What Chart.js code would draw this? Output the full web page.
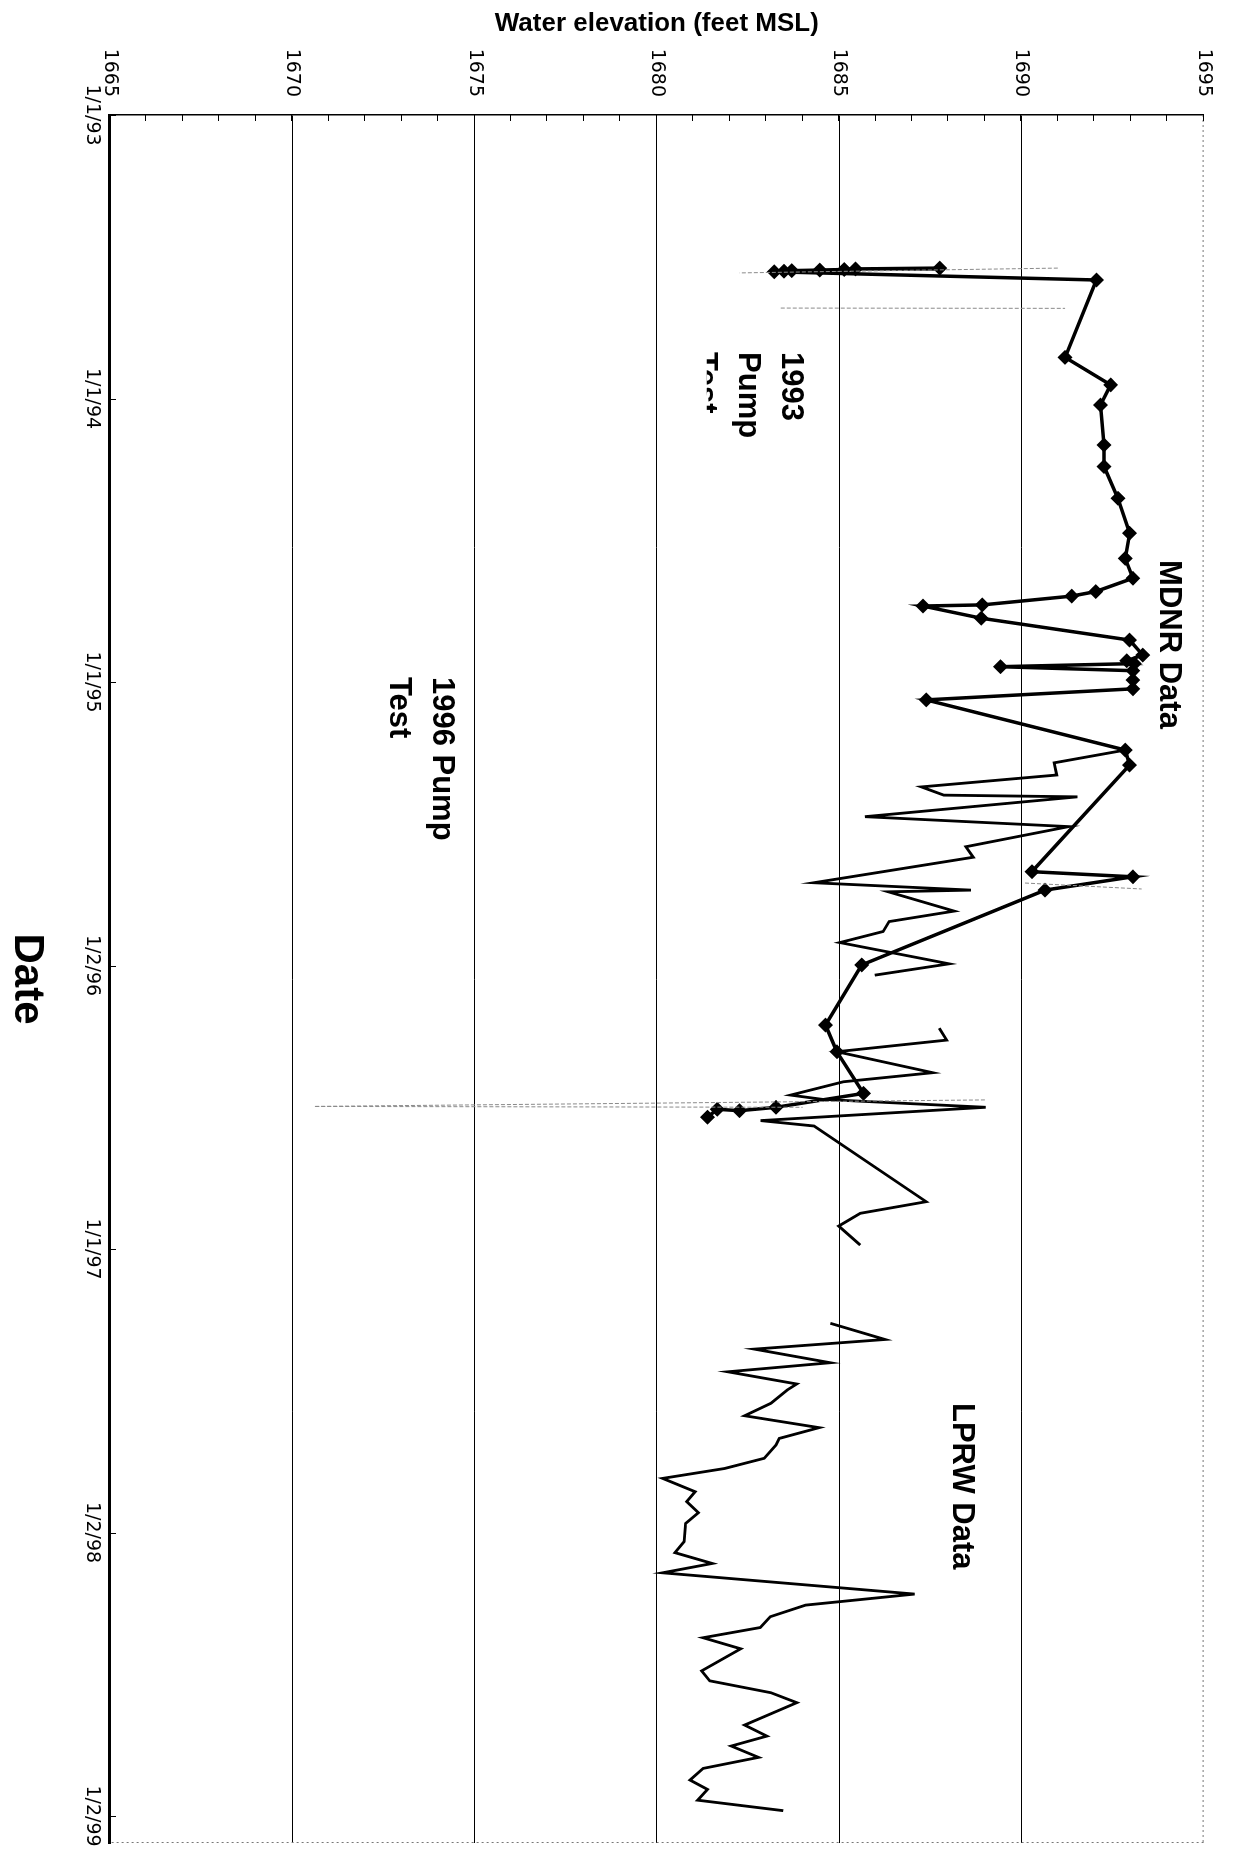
<!DOCTYPE html>
<html>
<head>
<meta charset="utf-8">
<title>Water elevation</title>
<script src="https://cdn.jsdelivr.net/npm/chart.js@4.4.1/dist/chart.umd.min.js"></script>
<style>
    html, body { margin: 0; padding: 0; background: #fff; overflow: hidden; }
    body { width: 1233px; height: 1855px; position: relative; }
    /* the chart is drawn the usual way round, then turned a quarter clockwise */
    #wrap {
        position: absolute; left: 0; top: 0;
        width: 1855px; height: 1233px;
        transform-origin: 0 0;
        transform: translate(1233px, 0) rotate(90deg);
    }
</style>
</head>
<body>
<div id="wrap"><canvas id="chart" width="1855" height="1233"></canvas></div>
<script>
// date axis, in decimal years
const tickYears = [1993, 1994, 1995, 1996, 1997, 1998, 1999];
const dateLabels = ['1/1/93', '1/1/94', '1/1/95', '1/2/96', '1/1/97', '1/2/98', '1/2/99'];

// MDNR Data (markers)
const mdnrYear = [
    1993.540, 1993.543, 1993.545, 1993.547, 1993.549, 1993.551, 1993.553, 1993.582,
    1993.855, 1993.952, 1994.023, 1994.164, 1994.240, 1994.352, 1994.475, 1994.564,
    1994.634, 1994.681, 1994.697, 1994.728, 1994.732, 1994.775, 1994.852, 1994.905,
    1994.925, 1994.935, 1994.946, 1994.960, 1994.993, 1995.024, 1995.063, 1995.240,
    1995.293, 1995.669, 1995.687, 1995.734, 1995.998, 1996.210, 1996.304, 1996.451,
    1996.500, 1996.512, 1996.507, 1996.535
];
const mdnrElev = [
    1687.76, 1685.45, 1685.14, 1684.47, 1683.70, 1683.49, 1683.22, 1692.06,
    1691.20, 1692.45, 1692.17, 1692.27, 1692.27, 1692.65, 1692.97, 1692.85,
    1693.06, 1692.04, 1691.38, 1688.93, 1687.30, 1688.90, 1692.97, 1693.33,
    1692.89, 1693.10, 1689.43, 1693.06, 1693.06, 1693.06, 1687.39, 1692.85,
    1692.97, 1690.29, 1693.06, 1690.65, 1685.62, 1684.63, 1684.94, 1685.67,
    1683.27, 1682.27, 1681.66, 1681.39
];

// LPRW Data (no markers, null = break in record)
const lprwYear = [
    1995.240, 1995.285, 1995.328, 1995.370, 1995.399, 1995.405, 1995.475, 1995.510,
    1995.581, 1995.618, 1995.708, 1995.734, 1995.740, 1995.808, 1995.845, 1995.880,
    1995.919, 1995.994, 1996.034, null,
    1996.221, 1996.263, 1996.304, 1996.378, 1996.410, 1996.457, 1996.472, 1996.500,
    1996.547, 1996.566, 1996.833, 1996.874, 1996.919, 1996.986, null,
    1997.262, 1997.319, 1997.353, 1997.401, 1997.433, 1997.476, 1997.497, 1997.544,
    1997.588, 1997.630, 1997.668, 1997.691, 1997.738, 1997.774, 1997.809, 1997.856,
    1997.891, 1997.930, 1997.968, 1998.032, 1998.071, 1998.109, 1998.142, 1998.217,
    1998.256, 1998.297, 1998.335, 1998.371, 1998.410, 1998.488, 1998.523, 1998.565,
    1998.600, 1998.679, 1998.718, 1998.753, 1998.793, 1998.832, 1998.873, 1998.906,
    1998.944, 1998.981
];
const lprwElev = [
    1692.85, 1690.90, 1690.97, 1687.26, 1687.87, 1691.54, 1685.71, 1691.30,
    1688.48, 1688.68, 1684.31, 1688.62, 1686.35, 1688.16, 1686.37, 1686.21,
    1685.02, 1688.02, 1685.98, null,
    1687.75, 1687.95, 1684.94, 1687.57, 1685.12, 1683.67, 1684.54, 1689.02,
    1682.85, 1684.31, 1687.39, 1685.58, 1684.99, 1685.58, null,
    1684.76, 1686.26, 1682.68, 1684.76, 1681.95, 1683.84, 1683.58, 1683.13,
    1682.41, 1684.45, 1683.36, 1683.27, 1682.95, 1681.86, 1680.16, 1681.05,
    1680.82, 1681.14, 1680.79, 1680.75, 1680.50, 1681.52, 1680.16, 1687.07,
    1684.08, 1683.11, 1682.84, 1681.27, 1682.30, 1681.23, 1681.45, 1683.13,
    1683.84, 1682.41, 1683.02, 1682.04, 1682.79, 1681.27, 1680.91, 1681.39,
    1681.12, 1683.47
];

// faint pump test traces
const pumpYear = [1993.540, 1993.557, null, 1993.681, 1993.682, null, 1995.709, 1995.730, null, 1996.474, 1996.497, 1996.500];
const pumpElev = [1691.00, 1682.27, null, 1683.40, 1691.20, null, 1690.10, 1693.30, null, 1689.00, 1670.60, 1684.00];

const notes = [
    { lines: ['MDNR Data'], year: 1994.570, elev: 1693.80 },
    { lines: ['LPRW Data'], year: 1997.543, elev: 1688.12 },
    { lines: ['1993', 'Pump', 'Test'], year: 1993.836, elev: 1683.44, cutElev: 1681.37 },
    { lines: ['1996 Pump', 'Test'], year: 1994.982, elev: 1673.87 }
];

function toPoints(xs, ys) {
    return xs.map((x, i) => ({ x: x, y: ys[i] }));
}

const FONT = '"Liberation Sans", Arial, sans-serif';
const TICK_FONT = '"DejaVu Sans", sans-serif';

const notesPlugin = {
    id: 'notes',
    afterDatasetsDraw(chart) {
        const { ctx, scales: { x, y } } = chart;
        ctx.save();
        ctx.fillStyle = '#000';
        ctx.font = 'bold 31px ' + FONT;
        ctx.textBaseline = 'alphabetic';
        notes.forEach(n => {
            const px = x.getPixelForValue(n.year);
            const py = y.getPixelForValue(n.elev);
            ctx.save();
            if (n.cutElev) {
                const cut = y.getPixelForValue(n.cutElev);
                ctx.beginPath();
                ctx.rect(px - 10, py - 60, 300, cut - py + 60);
                ctx.clip();
            }
            n.lines.forEach((t, i) => ctx.fillText(t, px, py + i * 43));
            ctx.restore();
        });
        ctx.restore();
    }
};

const framePlugin = {
    id: 'frame',
    afterDraw(chart) {
        const { ctx, chartArea: a, scales: { x, y } } = chart;
        ctx.save();
        // dotted far edges
        ctx.strokeStyle = '#777';
        ctx.lineWidth = 1;
        ctx.setLineDash([2, 3]);
        ctx.beginPath();
        ctx.moveTo(a.left, a.top + 0.5);
        ctx.lineTo(a.right, a.top + 0.5);
        ctx.moveTo(a.right - 0.5, a.top);
        ctx.lineTo(a.right - 0.5, a.bottom);
        ctx.stroke();
        ctx.setLineDash([]);
        // short inner tick marks
        ctx.strokeStyle = '#000';
        ctx.beginPath();
        tickYears.forEach(v => {
            const px = Math.round(x.getPixelForValue(v)) + 0.5;
            ctx.moveTo(px, a.bottom);
            ctx.lineTo(px, a.bottom - 6);
        });
        for (let v = y.min; v <= y.max; v++) {
            const py = Math.round(y.getPixelForValue(v)) + 0.5;
            ctx.moveTo(a.left, py);
            ctx.lineTo(a.left + 6, py);
        }
        ctx.stroke();
        ctx.restore();
    }
};

new Chart(document.getElementById('chart'), {
    type: 'line',
    data: {
        datasets: [
            {
                label: 'Pump test',
                data: toPoints(pumpYear, pumpElev),
                borderColor: '#8a8a8a',
                borderWidth: 1,
                borderDash: [4, 2],
                pointRadius: 0,
                spanGaps: false
            },
            {
                label: 'LPRW Data',
                data: toPoints(lprwYear, lprwElev),
                borderColor: '#000',
                borderWidth: 2.8,
                pointRadius: 0,
                spanGaps: false
            },
            {
                label: 'MDNR Data',
                data: toPoints(mdnrYear, mdnrElev),
                borderColor: '#000',
                borderWidth: 3.5,
                pointStyle: 'rectRot',
                pointRadius: 5,
                pointBackgroundColor: '#000',
                pointBorderColor: '#000'
            }
        ]
    },
    options: {
        responsive: false,
        animation: false,
        devicePixelRatio: 1,
        layout: { padding: { top: 20, right: 12, left: 0, bottom: 0 } },
        elements: { line: { tension: 0 } },
        plugins: {
            legend: { display: false },
            tooltip: { enabled: false }
        },
        scales: {
            x: {
                type: 'linear',
                position: 'bottom',
                min: 1993,
                max: 1999.095,
                afterBuildTicks: s => { s.ticks = tickYears.map(v => ({ value: v })); },
                afterFit: s => { s.height = 110; },
                ticks: {
                    autoSkip: false,
                    maxRotation: 0,
                    padding: 7,
                    color: '#000',
                    font: { family: TICK_FONT, size: 19 },
                    callback: (v, i) => dateLabels[i]
                },
                grid: { display: false, drawTicks: false },
                border: { color: '#000', width: 3 },
                title: {
                    display: true,
                    text: 'Date',
                    color: '#000',
                    font: { family: FONT, size: 42, weight: 'bold' },
                    padding: { top: 0, bottom: 1 }
                }
            },
            y: {
                type: 'linear',
                position: 'left',
                min: 1665,
                max: 1695,
                afterFit: s => { s.width = 115; },
                ticks: {
                    stepSize: 5,
                    padding: 18,
                    color: '#000',
                    font: { family: TICK_FONT, size: 19 },
                    callback: v => String(v)
                },
                grid: {
                    color: c => (c.tick && c.tick.value === 1695) ? 'rgba(0,0,0,0)' : '#000',
                    lineWidth: 1,
                    drawTicks: false
                },
                border: { color: '#000', width: 1.5 },
                title: {
                    display: true,
                    text: 'Water elevation (feet MSL)',
                    color: '#000',
                    font: { family: FONT, size: 26, weight: 'bold' },
                    padding: { top: 8, bottom: 0 }
                }
            }
        }
    },
    plugins: [notesPlugin, framePlugin]
});
</script>
</body>
</html>
